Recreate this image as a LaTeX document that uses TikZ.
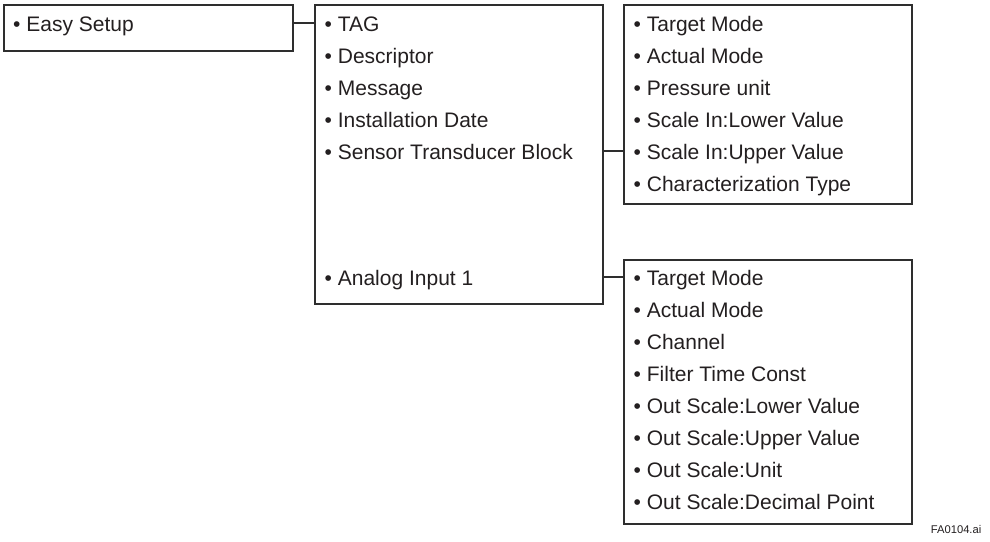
\documentclass[tikz,border=0pt]{standalone}
\usepackage{fontspec}
\setmainfont{Liberation Sans}
\usetikzlibrary{calc}
\definecolor{linecol}{HTML}{2E2E2E}
\definecolor{txtcol}{HTML}{231F20}
\begin{document}
\begin{tikzpicture}[x=1pt,y=-1pt,
  box/.style={draw=linecol, line width=1.4pt, inner sep=0pt, outer sep=0pt, anchor=north west},
  item/.style={anchor=base west, inner sep=0pt, font=\fontsize{21}{25}\selectfont, text=txtcol},
  conn/.style={draw=linecol, line width=1.4pt},
  tag/.style={anchor=base east, inner sep=0pt, font=\fontsize{11.2}{13}\selectfont, text=txtcol}]
\useasboundingbox (0,0) rectangle (990,541);
% boxes
\node[box, minimum width=289pt, minimum height=46pt] (b1) at (4,5) {};
\node[box, minimum width=288pt, minimum height=299pt] (b2) at (315,5) {};
\node[box, minimum width=288pt, minimum height=199pt] (b3) at (624,5) {};
\node[box, minimum width=288pt, minimum height=264pt] (b4) at (624,260) {};
% box 1
\node[item] (e1) at (13,31) {• Easy Setup};
% box 2
\node[item] (t1) at (324.5,31) {• TAG};
\node[item] (t2) at (324.5,63) {• Descriptor};
\node[item] (t3) at (324.5,95) {• Message};
\node[item] (t4) at (324.5,127) {• Installation Date};
\node[item] (t5) at (324.5,159) {• Sensor Transducer Block};
\node[item] (t6) at (324.5,285) {• Analog Input 1};
% box 3
\node[item] (s1) at (633.5,31) {• Target Mode};
\node[item] (s2) at (633.5,63) {• Actual Mode};
\node[item] (s3) at (633.5,95) {• Pressure unit};
\node[item] (s4) at (633.5,127) {• Scale In:Lower Value};
\node[item] (s5) at (633.5,159) {• Scale In:Upper Value};
\node[item] (s6) at (633.5,191) {• Characterization Type};
% box 4
\node[item] (a1) at (633.5,285) {• Target Mode};
\node[item] (a2) at (633.5,317) {• Actual Mode};
\node[item] (a3) at (633.5,349) {• Channel};
\node[item] (a4) at (633.5,381) {• Filter Time Const};
\node[item] (a5) at (633.5,413) {• Out Scale:Lower Value};
\node[item] (a6) at (633.5,445) {• Out Scale:Upper Value};
\node[item] (a7) at (633.5,477) {• Out Scale:Unit};
\node[item] (a8) at (633.5,509) {• Out Scale:Decimal Point};
% connector levels
\coordinate (k1) at ($(e1.base)+(0,-8)$);
\coordinate (k2) at ($(t5.base)+(0,-8)$);
\coordinate (k3) at ($(t6.base)+(0,-8)$);
\draw[conn] (b1.east |- k1) -- (b2.west |- k1);
\draw[conn] (b2.east |- k2) -- (b3.west |- k2);
\draw[conn] (b2.east |- k3) -- (b4.west |- k3);
% figure tag
\node[tag] (fa) at (981.5,533) {FA0104.ai};
\end{tikzpicture}
\end{document}
